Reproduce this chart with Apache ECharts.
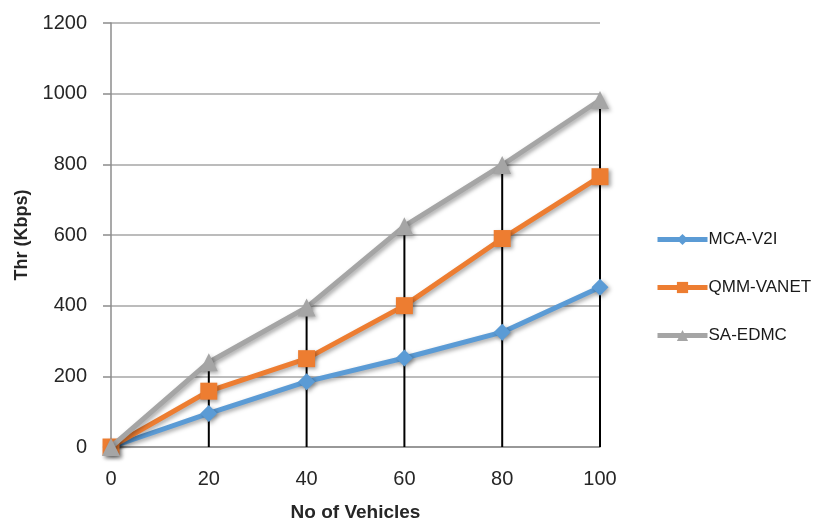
<!DOCTYPE html>
<html><head><meta charset="utf-8">
<script src="https://cdn.jsdelivr.net/npm/echarts@6/dist/echarts.min.js"></script>
<style>html,body{margin:0;padding:0;background:#fff}#c{width:835px;height:527px}</style>
</head><body><div id="c"></div>
<script>
const xValues = [0, 20, 40, 60, 80, 100];
const mcaV2I = [0, 95, 185, 252, 325, 452];
const qmmVanet = [0, 158, 250, 400, 590, 765];
const saEdmc = [0, 240, 395, 625, 798, 982];
const seriesNames = ['MCA-V2I', 'QMM-VANET', 'SA-EDMC'];
const colors = ['#5B9BD5', '#ED7D31', '#A5A5A5'];
const symbols = ['diamond', 'rect', 'triangle'];

const all = [mcaV2I, qmmVanet, saEdmc];
const dropTops = xValues.map((x, i) => [x, Math.max(...all.map(a => a[i]))]);
const font = 'Liberation Sans, Arial, sans-serif';
const shadow = {shadowColor: 'rgba(0,0,0,0.35)', shadowBlur: 4, shadowOffsetX: 2, shadowOffsetY: 2};

const chart = echarts.init(document.getElementById('c'), null, {renderer: 'canvas'});
chart.setOption({
  animation: false,
  grid: {left: 111, right: 235, top: 23, bottom: 79},
  legend: {
    orient: 'vertical', left: 650, top: 226, itemGap: 31,
    itemWidth: 50, itemHeight: 14,
    lineStyle: {width: 5},
    textStyle: {fontFamily: font, fontSize: 17, color: '#1a1a1a', padding: [0, 0, 0, -4]},
    data: seriesNames
  },
  xAxis: {
    type: 'value', min: 0, max: 100, interval: 20,
    name: 'No of Vehicles', nameLocation: 'middle', nameGap: 56,
    nameTextStyle: {fontFamily: font, fontSize: 19, fontWeight: 'bold', color: '#262626'},
    axisLine: {lineStyle: {color: '#8c8c8c', width: 1.5}},
    axisTick: {show: false},
    splitLine: {show: false},
    axisLabel: {fontFamily: font, fontSize: 20, color: '#262626', margin: 22}
  },
  yAxis: {
    type: 'value', min: 0, max: 1200, interval: 200,
    name: 'Thr (Kbps)', nameLocation: 'middle', nameGap: 80, nameRotate: 90,
    nameTextStyle: {fontFamily: font, fontSize: 18, fontWeight: 'bold', color: '#262626'},
    axisLine: {show: true, lineStyle: {color: '#8c8c8c', width: 1.5}},
    axisTick: {show: true, inside: false, length: 8, lineStyle: {color: '#8c8c8c', width: 1.5}},
    splitLine: {show: true, lineStyle: {color: '#a6a6a6', width: 1.5}},
    axisLabel: {fontFamily: font, fontSize: 20, color: '#262626', margin: 24, formatter: v => String(v)}
  },
  series: [
    {
      type: 'bar', name: 'drop', data: dropTops, barWidth: 2,
      itemStyle: {color: '#000'}, z: 1, silent: true, legendHoverLink: false
    }
  ].concat([mcaV2I, qmmVanet, saEdmc].map((arr, k) => ({
    type: 'line', name: seriesNames[k],
    data: xValues.map((x, i) => [x, arr[i]]),
    symbol: symbols[k], symbolSize: k === 2 ? 18 : 17,
    showAllSymbol: true,
    lineStyle: Object.assign({color: colors[k], width: 5}, shadow),
    itemStyle: Object.assign({color: colors[k], borderWidth: 0}, shadow),
    z: 3 + k
  })))
});
</script></body></html>
